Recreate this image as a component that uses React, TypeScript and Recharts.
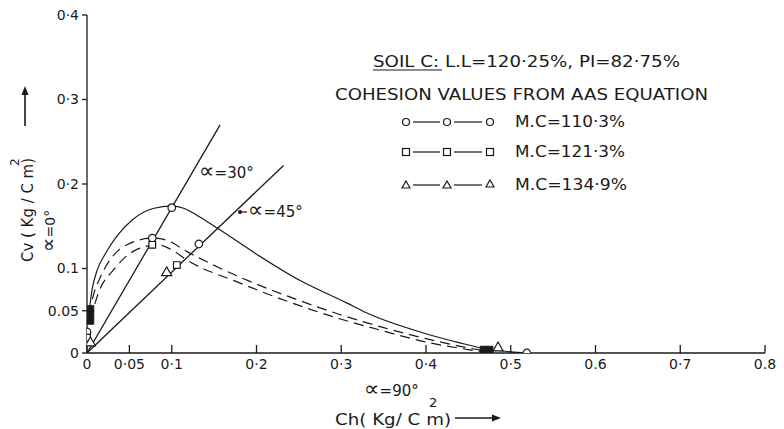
import React from 'react';
import {
  ComposedChart,
  Line,
  Scatter,
  XAxis,
  YAxis,
  ZAxis,
} from 'recharts';

// curve values (Ch, Cv in Kg/cm2)
const mc110Curve = [
  { x: 0.002, y: 0.045 }, { x: 0.006, y: 0.075 }, { x: 0.012, y: 0.098 },
  { x: 0.022, y: 0.118 }, { x: 0.035, y: 0.138 }, { x: 0.054, y: 0.158 },
  { x: 0.078, y: 0.171 }, { x: 0.1, y: 0.174 }, { x: 0.115, y: 0.171 },
  { x: 0.133, y: 0.161 }, { x: 0.155, y: 0.147 }, { x: 0.2, y: 0.117 },
  { x: 0.251, y: 0.086 }, { x: 0.307, y: 0.059 }, { x: 0.331, y: 0.047 },
  { x: 0.396, y: 0.024 }, { x: 0.44, y: 0.012 }, { x: 0.47, y: 0.005 },
  { x: 0.52, y: 0.0 },
];
const mc121Curve = [
  { x: 0.003, y: 0.045 }, { x: 0.007, y: 0.066 }, { x: 0.015, y: 0.088 },
  { x: 0.027, y: 0.11 }, { x: 0.047, y: 0.128 }, { x: 0.078, y: 0.136 },
  { x: 0.095, y: 0.133 }, { x: 0.118, y: 0.12 }, { x: 0.18, y: 0.09 },
  { x: 0.251, y: 0.062 }, { x: 0.3, y: 0.045 }, { x: 0.35, y: 0.03 },
  { x: 0.4, y: 0.017 }, { x: 0.45, y: 0.006 }, { x: 0.48, y: 0.001 },
];
const mc135Curve = [
  { x: 0.004, y: 0.04 }, { x: 0.015, y: 0.075 }, { x: 0.031, y: 0.098 },
  { x: 0.054, y: 0.12 }, { x: 0.083, y: 0.128 }, { x: 0.1, y: 0.122 },
  { x: 0.118, y: 0.11 }, { x: 0.18, y: 0.083 }, { x: 0.251, y: 0.056 },
  { x: 0.3, y: 0.04 }, { x: 0.35, y: 0.026 }, { x: 0.4, y: 0.013 },
  { x: 0.45, y: 0.004 }, { x: 0.47, y: 0.001 },
];

// radial lines from origin
const alpha30Line = [{ x: 0, y: 0 }, { x: 0.157, y: 0.27 }];
const alpha45Line = [{ x: 0, y: 0 }, { x: 0.232, y: 0.222 }];

// plotted points
const circlePts = [
  { x: 0.0, y: 0.025 }, { x: 0.1, y: 0.172 }, { x: 0.077, y: 0.136 },
  { x: 0.132, y: 0.129 }, { x: 0.519, y: 0.0 },
];
const squarePts = [
  { x: 0.0, y: 0.018 }, { x: 0.077, y: 0.128 }, { x: 0.106, y: 0.104 },
];
const trianglePts = [
  { x: 0.004, y: 0.012 }, { x: 0.094, y: 0.095 }, { x: 0.485, y: 0.006 },
];
const filledPts = [
  { x: 0.004, y: 0.038 }, { x: 0.004, y: 0.046 }, { x: 0.004, y: 0.052 },
  { x: 0.468, y: 0.004 }, { x: 0.475, y: 0.004 },
];

const xTicks = [0, 0.05, 0.1, 0.2, 0.3, 0.4, 0.5, 0.6, 0.7, 0.8];
const xTickLabels = ['0', '0·05', '0·1', '0·2', '0·3', '0·4', '0·5', '0.6', '0·7', '0.8'];
const yTicks = [0, 0.05, 0.1, 0.2, 0.3, 0.4];
const yTickLabels = ['0', '0.05', '0.1', '0·2', '0·3', '0·4'];

const ink = '#1a1a1a';
const font = '"DejaVu Sans", sans-serif';

const tickStyle = { fill: ink, fontSize: 14, fontFamily: font };

// "∝=30°" style label, the ∝ drawn larger like the hand lettering
function AlphaLabel({ x, y, deg, size = 14 }: { x: number; y: number; deg: string; size?: number }) {
  return (
    <text x={x} y={y} fill={ink} fontFamily={font} fontSize={size}>
      <tspan fontSize={size * 1.45}>∝</tspan>
      <tspan>={deg}°</tspan>
    </text>
  );
}

function Overlay() {
  const t = { fill: ink, fontFamily: font };
  return (
    <svg
      width={784}
      height={429}
      style={{ position: 'absolute', left: 0, top: 0, pointerEvents: 'none' }}
    >
      {/* y axis title */}
      <g transform="translate(33, 262) rotate(-90)">
        <text {...t} x={0} y={0} fontSize={15} textLength={104} lengthAdjust="spacingAndGlyphs">
          Cv ( Kg / C m)
        </text>
        <text {...t} x={96} y={-14} fontSize={12}>2</text>
      </g>
      <g transform="translate(55, 252) rotate(-90)">
        <AlphaLabel x={0} y={0} deg="0" size={14} />
      </g>
      <line x1={25} y1={126} x2={25} y2={92} stroke={ink} strokeWidth={1.6} />
      <path d="M25,86 L21.5,95 L28.5,95 Z" fill={ink} />

      {/* x axis title */}
      <text {...t} x={335} y={425} fontSize={16} textLength={116} lengthAdjust="spacingAndGlyphs">
        Ch( Kg/ C m)
      </text>
      <text {...t} x={429} y={407} fontSize={13}>2</text>
      <line x1={455} y1={418} x2={494} y2={418} stroke={ink} strokeWidth={1.6} />
      <path d="M501,418 L492,414.5 L492,421.5 Z" fill={ink} />
      <AlphaLabel x={364} y={396} deg="90" size={15} />

      {/* line annotations */}
      <AlphaLabel x={199} y={178} deg="30" size={15} />
      <AlphaLabel x={248} y={217} deg="45" size={15} />
      <line x1={240} y1={212} x2={247} y2={212} stroke={ink} strokeWidth={1.2} />
      <circle cx={240} cy={212} r={2} fill={ink} />

      {/* legend block */}
      <text {...t} x={373} y={67} fontSize={16} textLength={307} lengthAdjust="spacingAndGlyphs">
        SOIL C: L.L=120·25%, PI=82·75%
      </text>
      <line x1={373} y1={70} x2={442} y2={70} stroke={ink} strokeWidth={1.2} />
      <text {...t} x={335} y={100} fontSize={16} textLength={373} lengthAdjust="spacingAndGlyphs">
        COHESION VALUES FROM AAS EQUATION
      </text>

      <g stroke={ink} strokeWidth={1.2} fill="none">
        <line x1={413} y1={122} x2={440} y2={122} />
        <line x1={454} y1={122} x2={482} y2={122} />
        <circle cx={406} cy={122} r={3.5} />
        <circle cx={447} cy={122} r={3.5} />
        <circle cx={490} cy={122} r={3.5} />

        <line x1={413} y1={152} x2={440} y2={152} />
        <line x1={454} y1={152} x2={482} y2={152} />
        <rect x={402.5} y={148.5} width={7} height={7} />
        <rect x={443.5} y={148.5} width={7} height={7} />
        <rect x={486.5} y={148.5} width={7} height={7} />

        <line x1={413} y1={185} x2={440} y2={185} />
        <line x1={454} y1={185} x2={482} y2={185} />
        <path d="M406,181 L410,188 L402,188 Z" />
        <path d="M447,181 L451,188 L443,188 Z" />
        <path d="M490,180 L494,187 L486,187 Z" />
      </g>
      <text {...t} x={515} y={127} fontSize={15} textLength={110} lengthAdjust="spacingAndGlyphs">
        M.C=110·3%
      </text>
      <text {...t} x={515} y={157} fontSize={15} textLength={110} lengthAdjust="spacingAndGlyphs">
        M.C=121·3%
      </text>
      <text {...t} x={515} y={190} fontSize={15} textLength={112} lengthAdjust="spacingAndGlyphs">
        M.C=134·9%
      </text>
    </svg>
  );
}

export default function App() {
  return (
    <div style={{ position: 'relative', width: 784, height: 429, background: '#fff' }}>
      <style>{'body{margin:0;background:#fff}'}</style>
      <ComposedChart
        width={784}
        height={429}
        margin={{ top: 15, right: 19, bottom: 46, left: 47 }}
      >
        <XAxis
          type="number"
          dataKey="x"
          domain={[0, 0.8]}
          ticks={xTicks}
          tickFormatter={(v) => xTickLabels[xTicks.indexOf(v)] ?? ''}
          height={30}
          stroke={ink}
          strokeWidth={1.3}
          tickSize={-8}
          tickMargin={14}
          tick={tickStyle}
          interval={0}
          allowDataOverflow
        />
        <YAxis
          type="number"
          dataKey="y"
          domain={[0, 0.4]}
          ticks={yTicks}
          tickFormatter={(v) => yTickLabels[yTicks.indexOf(v)] ?? ''}
          width={40}
          stroke={ink}
          strokeWidth={1.3}
          tickSize={5}
          tickMargin={3}
          tick={tickStyle}
          interval={0}
          allowDataOverflow
        />
        <ZAxis range={[45, 45]} />

        <Line data={alpha30Line} dataKey="y" type="linear" stroke={ink} strokeWidth={1.3} dot={false} isAnimationActive={false} />
        <Line data={alpha45Line} dataKey="y" type="linear" stroke={ink} strokeWidth={1.3} dot={false} isAnimationActive={false} />

        <Line data={mc110Curve} dataKey="y" type="monotone" stroke={ink} strokeWidth={1.2} dot={false} isAnimationActive={false} />
        <Line data={mc121Curve} dataKey="y" type="monotone" stroke={ink} strokeWidth={1.2} strokeDasharray="10 6" dot={false} isAnimationActive={false} />
        <Line data={mc135Curve} dataKey="y" type="monotone" stroke={ink} strokeWidth={1.2} strokeDasharray="10 6" dot={false} isAnimationActive={false} />

        <Scatter data={circlePts} dataKey="y" shape="circle" fill="#fff" stroke={ink} strokeWidth={1.2} isAnimationActive={false} />
        <Scatter data={squarePts} dataKey="y" shape="square" fill="#fff" stroke={ink} strokeWidth={1.2} isAnimationActive={false} />
        <Scatter data={trianglePts} dataKey="y" shape="triangle" fill="#fff" stroke={ink} strokeWidth={1.2} isAnimationActive={false} />
        <Scatter data={filledPts} dataKey="y" shape="square" fill={ink} stroke={ink} strokeWidth={1} isAnimationActive={false} />
      </ComposedChart>
      <Overlay />
    </div>
  );
}
